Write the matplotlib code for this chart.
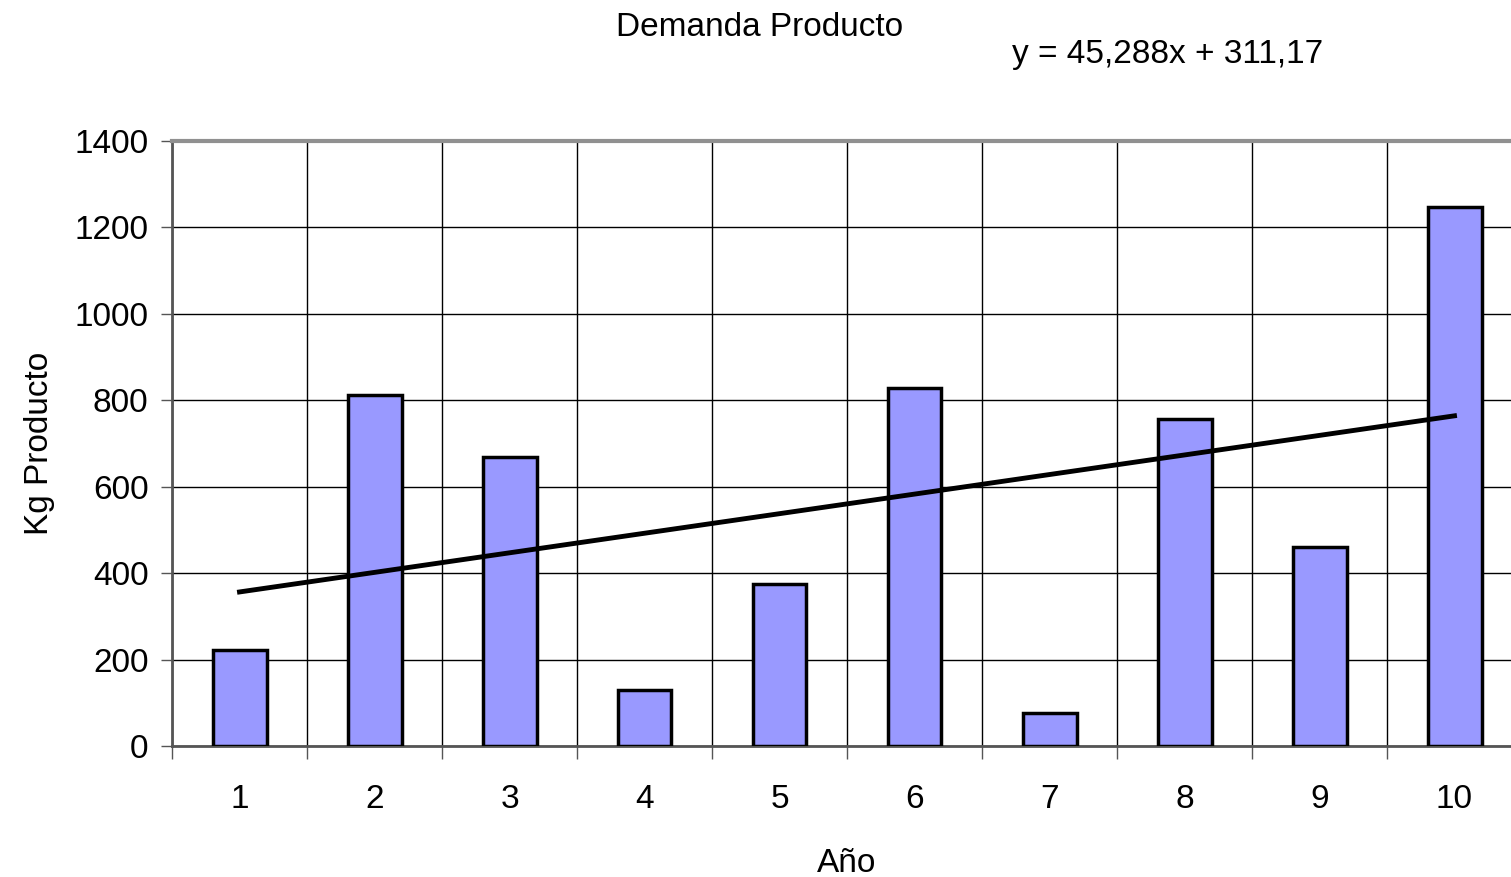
import numpy as np
import matplotlib
matplotlib.use("Agg")
import matplotlib.pyplot as plt

plt.rcParams['font.family'] = ['Liberation Sans', 'DejaVu Sans']

# data
anios = [1, 2, 3, 4, 5, 6, 7, 8, 9, 10]
demanda = [222, 812, 669, 130, 375, 828, 76, 757, 460, 1247]
pendiente = 45.288
intercepto = 311.17
y_ticks = [0, 200, 400, 600, 800, 1000, 1200, 1400]

fig = plt.figure(figsize=(15.11, 8.77), dpi=100)
# plot area runs slightly past the right edge of the picture
ax = fig.add_axes([172 / 1511, 131 / 877, 1350 / 1511, 605 / 877])

x = np.array(anios)
ax.bar(x, demanda, width=0.4, color='#9999FF', edgecolor='black', linewidth=2.5, zorder=3)

tendencia = pendiente * x + intercepto
ax.plot(x, tendencia, color='black', linewidth=3.5, zorder=4)

ax.set_xlim(0.5, 10.5)
ax.set_ylim(0, 1400)
ax.set_yticks(y_ticks)

# category boundaries for grid and tick marks
ax.set_xticks(np.arange(0.5, 11, 1), minor=False)
ax.set_xticklabels([])
ax.set_xticks(x, minor=True)
ax.set_xticklabels([str(a) for a in anios], minor=True)
ax.tick_params(axis='x', which='minor', length=0, pad=27, labelsize=24)
ax.tick_params(axis='x', which='major', length=9, width=1, color='#555555')
ax.tick_params(axis='y', length=8, width=1, labelsize=24, pad=9, color='#555555')

ax.grid(True, which='major', color='black', linewidth=1, zorder=0)
ax.set_axisbelow(True)

ax.spines['top'].set_color('#909090')
ax.spines['top'].set_linewidth(3)
ax.spines['left'].set_color('#555555')
ax.spines['left'].set_linewidth(2)
ax.spines['bottom'].set_color('#555555')
ax.spines['bottom'].set_linewidth(2)
ax.spines['right'].set_visible(False)

ax.set_ylabel('Kg Producto', fontsize=24, labelpad=14)
ax.set_xlabel('Año', fontsize=24, labelpad=24)

fig.text(760 / 1511, 1 - 27 / 877, 'Demanda Producto', fontsize=24, ha='center', va='center')
fig.text(1168 / 1511, 1 - 55 / 877, 'y = 45,288x + 311,17', fontsize=24, ha='center', va='center')

fig.savefig('out.png', dpi=100)
